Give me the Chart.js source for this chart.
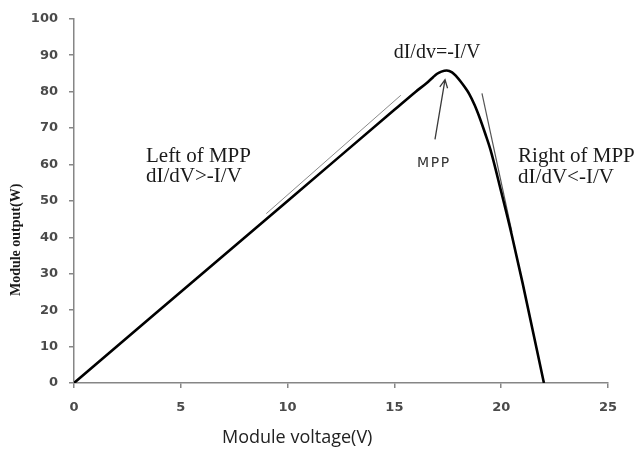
<!DOCTYPE html>
<html>
<head>
<meta charset="utf-8">
<title>Module output vs voltage</title>
<script src="https://cdn.jsdelivr.net/npm/chart.js@4/dist/chart.umd.min.js"></script>
<style>
    body { margin: 0; background: #fff; }
    #wrap { width: 639px; height: 450px; }
</style>
</head>
<body>
<div id="wrap"><canvas id="pvChart" width="639" height="450"></canvas></div>
<script>
// P-V curve of the module
const voltage = [0, 10, 15, 16, 16.5, 16.8, 17.0, 17.2, 17.45, 17.7, 17.9, 18.1, 18.3, 18.5, 18.75, 19.0, 19.25, 19.5, 20.0, 20.5, 21.0, 22.0];
const power = [0, 50, 75, 80, 82.3, 83.9, 84.9, 85.5, 85.8, 85.3, 84.2, 82.8, 81.2, 79.4, 76.4, 72.7, 68.5, 64, 52.5, 40.5, 27.5, 0];

// tangent strokes on either side of the peak
const leftTangentV = [9, 15.3];
const leftTangentP = [46.5, 79];
const rightTangentV = [19.1, 20.5];
const rightTangentP = [79.5, 41.5];

// arrow pointing at the MPP (tail, tip)
const arrowV = [16.9, 17.37];
const arrowP = [66.9, 83.3];

const xTicks = [0, 5, 10, 15, 20, 25];
const yTicks = [0, 10, 20, 30, 40, 50, 60, 70, 80, 90, 100];

function toPoints(xs, ys) {
    return xs.map((x, i) => ({x: x, y: ys[i]}));
}

const axisGray = '#868686';
const tickFont = {family: 'DejaVu Sans', size: 13, weight: 'bold'};

//Draws the text notes, the arrow and the axis titles
const notesPlugin = {
    id: 'notes',
    afterDatasetsDraw(chart) {
        const ctx = chart.ctx;
        const xs = chart.scales.x;
        const ys = chart.scales.y;
        ctx.save();

        // arrow to the peak
        const x0 = xs.getPixelForValue(arrowV[0]), y0 = ys.getPixelForValue(arrowP[0]);
        const x1 = xs.getPixelForValue(arrowV[1]), y1 = ys.getPixelForValue(arrowP[1]);
        const ang = Math.atan2(y1 - y0, x1 - x0);
        ctx.strokeStyle = '#3a3a3a';
        ctx.lineWidth = 1.3;
        ctx.beginPath();
        ctx.moveTo(x0, y0);
        ctx.lineTo(x1, y1);
        ctx.moveTo(x1 - 9 * Math.cos(ang - 0.45), y1 - 9 * Math.sin(ang - 0.45));
        ctx.lineTo(x1, y1);
        ctx.lineTo(x1 - 9 * Math.cos(ang + 0.45), y1 - 9 * Math.sin(ang + 0.45));
        ctx.stroke();

        // serif notes
        ctx.fillStyle = '#1a1a1a';
        ctx.textBaseline = 'middle';
        ctx.font = '21px "Liberation Serif"';
        ctx.textAlign = 'left';
        ctx.fillText('Left of MPP', xs.getPixelForValue(3.37), ys.getPixelForValue(62.3));
        ctx.fillText('dI/dV>-I/V', xs.getPixelForValue(3.37), ys.getPixelForValue(56.8));
        ctx.fillText('Right of MPP', xs.getPixelForValue(20.79), ys.getPixelForValue(62.3));
        ctx.fillText('dI/dV<-I/V', xs.getPixelForValue(20.79), ys.getPixelForValue(56.3));
        ctx.font = '20px "Liberation Serif"';
        ctx.textAlign = 'center';
        ctx.fillText('dI/dv=-I/V', xs.getPixelForValue(17.0), ys.getPixelForValue(90.7));

        // MPP label
        ctx.font = '14px "DejaVu Sans"';
        ctx.fillStyle = '#333';
        ctx.letterSpacing = '1.5px';
        ctx.fillText('MPP', xs.getPixelForValue(16.8) + 1, ys.getPixelForValue(60.4));
        ctx.letterSpacing = '0px';

        // axis titles
        ctx.font = '18px "Open Sans"';
        ctx.fillStyle = '#222';
        ctx.fillText('Module voltage(V)', xs.getPixelForValue(10.45), chart.chartArea.bottom + 55);

        ctx.translate(16, ys.getPixelForValue(39.3));
        ctx.rotate(-Math.PI / 2);
        ctx.font = 'bold 14px "Liberation Serif"';
        ctx.fillStyle = '#1a1a1a';
        ctx.fillText('Module output(W)', 0, 0);
        ctx.restore();
    }
};

new Chart(document.getElementById('pvChart'), {
    type: 'line',
    data: {
        datasets: [
            {
                data: toPoints(voltage, power),
                borderColor: '#000',
                borderWidth: 2.6,
                pointRadius: 0,
                cubicInterpolationMode: 'monotone'
            },
            {
                data: toPoints(leftTangentV, leftTangentP),
                borderColor: '#8a8a8a',
                borderWidth: 1,
                pointRadius: 0
            },
            {
                data: toPoints(rightTangentV, rightTangentP),
                borderColor: '#555',
                borderWidth: 1.2,
                pointRadius: 0
            }
        ]
    },
    options: {
        responsive: false,
        animation: false,
        layout: {padding: {left: 0, top: 17, right: 31, bottom: 0}},
        plugins: {
            legend: {display: false},
            tooltip: {enabled: false}
        },
        scales: {
            x: {
                type: 'linear',
                min: 0,
                max: 25,
                afterBuildTicks: (scale) => { scale.ticks = xTicks.map(v => ({value: v})); },
                afterFit: (scale) => { scale.height = 67; },
                grid: {drawOnChartArea: false, color: axisGray, tickLength: 5, lineWidth: 1.5},
                border: {color: axisGray, width: 1.5},
                ticks: {color: '#4a4a4a', font: tickFont, padding: 12, maxRotation: 0}
            },
            y: {
                min: 0,
                max: 100,
                afterBuildTicks: (scale) => { scale.ticks = yTicks.map(v => ({value: v})); },
                afterFit: (scale) => { scale.width = 74; },
                grid: {drawOnChartArea: false, color: axisGray, tickLength: 5, lineWidth: 1.5},
                border: {color: axisGray, width: 1.5},
                ticks: {color: '#4a4a4a', font: tickFont, padding: 11}
            }
        }
    },
    plugins: [notesPlugin]
});
</script>
</body>
</html>
